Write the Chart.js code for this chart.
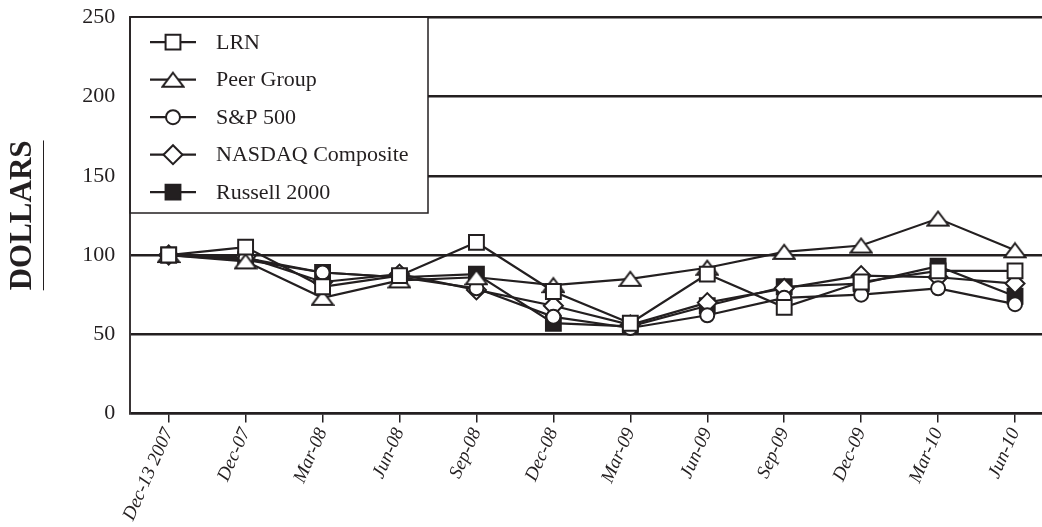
<!DOCTYPE html>
<html>
<head>
<meta charset="utf-8">
<title>Cumulative total return</title>
<script src="https://cdn.jsdelivr.net/npm/chart.js@4.4.1/dist/chart.umd.min.js"></script>
<style>
  html, body { margin: 0; padding: 0; background: #fff; overflow: hidden; }
  #wrap { width: 1066px; height: 527px; }
</style>
</head>
<body>
<div id="wrap"><canvas id="perfChart"></canvas></div>
<script>
// Categories and series values
const periods = ['Dec-13 2007', 'Dec-07', 'Mar-08', 'Jun-08', 'Sep-08', 'Dec-08',
                 'Mar-09', 'Jun-09', 'Sep-09', 'Dec-09', 'Mar-10', 'Jun-10'];
const lrnValues     = [100, 105, 80, 87, 108, 77, 57, 88, 67, 83, 90, 90];
const peerValues    = [100, 96, 73, 84, 86, 81, 85, 92, 102, 106, 123, 103];
const spValues      = [100, 98, 89, 86, 79, 61, 54, 62, 73, 75, 79, 69];
const nasdaqValues  = [100, 99, 83, 88, 78, 68, 56, 70, 79, 87, 86, 82];
const russellValues = [100, 97, 89, 86, 88, 57, 55, 68, 80, 82, 93, 74];
const yTicks = [0, 50, 100, 150, 200, 250];

const ink = '#231f20';
const serif = "'Liberation Serif', 'Times New Roman', serif";

// flatter open triangle than the built-in one
function makeTriangle() {
    const c = document.createElement('canvas');
    c.width = 24;
    c.height = 18;
    const g = c.getContext('2d');
    g.beginPath();
    g.moveTo(12, 2);
    g.lineTo(22.5, 16);
    g.lineTo(1.5, 16);
    g.closePath();
    g.fillStyle = '#fff';
    g.fill();
    g.lineWidth = 2;
    g.strokeStyle = ink;
    g.stroke();
    return c;
}
const triangleMark = makeTriangle();

function series(label, data, style, radius, fill) {
    return {
        label: label,
        data: data,
        borderColor: ink,
        borderWidth: 2.2,
        pointStyle: style,
        pointRadius: radius,
        pointHoverRadius: radius,
        pointBorderWidth: 2,
        pointBorderColor: ink,
        pointBackgroundColor: fill,
        tension: 0
    };
}

// Legend drawn as a white box inside the plot, top-left
const legendBox = {
    id: 'legendBox',
    beforeDatasetsDraw(chart) {
        const ctx = chart.ctx;
        const area = chart.chartArea;
        const x0 = area.left, y0 = area.top, x1 = 428, y1 = 213;
        ctx.save();
        ctx.fillStyle = '#fff';
        ctx.fillRect(x0, y0, x1 - x0, y1 - y0);
        ctx.strokeStyle = ink;
        ctx.lineWidth = 1.5;
        ctx.strokeRect(x0, y0, x1 - x0, y1 - y0);

        chart.data.datasets.forEach((ds, i) => {
            const y = y0 + 25 + i * 37.5;
            ctx.strokeStyle = ink;
            ctx.lineWidth = 2.2;
            ctx.beginPath();
            ctx.moveTo(150, y);
            ctx.lineTo(196, y);
            ctx.stroke();

            ctx.fillStyle = ds.pointBackgroundColor;
            ctx.strokeStyle = ink;
            ctx.lineWidth = 2;
            Chart.helpers.drawPoint(ctx, {
                pointStyle: ds.pointStyle,
                radius: ds.pointRadius,
                rotation: 0,
                borderWidth: 2
            }, 173, y);

            ctx.fillStyle = ink;
            ctx.font = '22px ' + serif;
            ctx.textAlign = 'left';
            ctx.textBaseline = 'middle';
            ctx.fillText(ds.label, 216, y + 1);
        });
        ctx.restore();
    }
};

// underline beside the rotated axis title
const titleUnderline = {
    id: 'titleUnderline',
    afterDraw(chart) {
        const ctx = chart.ctx;
        const scale = chart.scales.y;
        const title = scale.options.title;
        const area = chart.chartArea;
        ctx.save();
        ctx.font = 'bold ' + title.font.size + 'px ' + serif;
        const w = ctx.measureText(title.text).width;
        const x = scale.left + title.font.size * 1.2 / 2 + title.padding.top + 20.5;
        const mid = (area.top + area.bottom) / 2;
        ctx.strokeStyle = ink;
        ctx.lineWidth = 1;
        ctx.beginPath();
        ctx.moveTo(Math.round(x) + 0.5, mid - w / 2);
        ctx.lineTo(Math.round(x) + 0.5, mid + w / 2);
        ctx.stroke();
        ctx.restore();
    }
};

const ctx = document.getElementById('perfChart').getContext('2d');

new Chart(ctx, {
    type: 'line',
    data: {
        labels: periods,
        datasets: [
            series('LRN', lrnValues, 'rect', 10.5, '#fff'),
            series('Peer Group', peerValues, triangleMark, 10, '#fff'),
            series('S&P 500', spValues, 'circle', 7, '#fff'),
            series('NASDAQ Composite', nasdaqValues, 'rectRot', 9.5, '#fff'),
            series('Russell 2000', russellValues, 'rect', 10.5, ink)
        ]
    },
    options: {
        responsive: true,
        maintainAspectRatio: false,
        animation: false,
        layout: { padding: { top: 0, right: 4, bottom: 1, left: 0 } },
        plugins: {
            legend: { display: false },
            tooltip: { enabled: false }
        },
        scales: {
            x: {
                offset: true,
                grid: {
                    drawOnChartArea: false,
                    drawTicks: true,
                    tickLength: 9,
                    color: ink,
                    lineWidth: 1.5
                },
                border: { display: true, color: ink, width: 2.5 },
                ticks: {
                    color: ink,
                    font: { family: serif, size: 19, style: 'italic' },
                    minRotation: 66,
                    maxRotation: 66,
                    padding: 2,
                    autoSkip: false
                }
            },
            y: {
                min: 0,
                max: 250,
                afterBuildTicks(scale) {
                    scale.ticks = yTicks.map(v => ({ value: v }));
                },
                grid: {
                    drawTicks: false,
                    color: ink,
                    lineWidth: 2.5
                },
                border: { display: true, color: '#3a3536', width: 2 },
                ticks: {
                    color: ink,
                    font: { family: serif, size: 22, lineHeight: 0.2 },
                    padding: 15
                },
                title: {
                    display: true,
                    text: 'DOLLARS',
                    color: ink,
                    font: { family: serif, size: 31, weight: 'bold' },
                    padding: { top: 4, bottom: 26 }
                }
            }
        }
    },
    plugins: [legendBox, titleUnderline]
});
</script>
</body>
</html>
